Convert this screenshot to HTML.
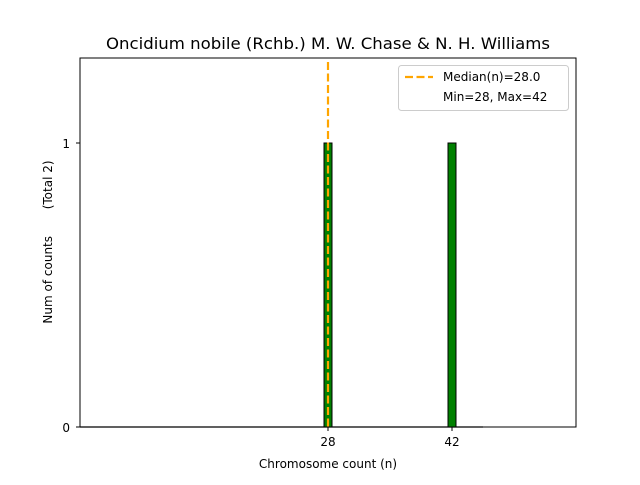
<!DOCTYPE html>
<html><head><style>body{margin:0;background:#fff}</style></head><body>
<svg width="640" height="480" xmlns="http://www.w3.org/2000/svg" font-family="DejaVu Sans, Liberation Sans, sans-serif">
<rect width="640" height="480" fill="#fff"/>
<text x="328" y="49" font-size="16.3" text-anchor="middle" textLength="444" lengthAdjust="spacingAndGlyphs">Oncidium nobile (Rchb.) M. W. Chase &amp; N. H. Williams</text>
<line x1="80" y1="427" x2="483" y2="427" stroke="#000" stroke-width="1.2"/>
<rect x="324" y="143" width="8" height="284" fill="#008000" stroke="#000" stroke-width="1"/>
<rect x="448" y="143" width="8" height="284" fill="#008000" stroke="#000" stroke-width="1"/>
<line x1="328" y1="62" x2="328" y2="427" stroke="#FFA500" stroke-width="2.2" stroke-dasharray="8,3.5"/>
<rect x="80" y="58" width="496" height="369" fill="none" stroke="#000" stroke-width="1"/>
<g stroke="#000"><line x1="76" y1="427" x2="80" y2="427"/><line x1="76" y1="143" x2="80" y2="143"/>
<line x1="328" y1="427" x2="328" y2="431"/><line x1="452" y1="427" x2="452" y2="431"/></g>
<g font-size="12"><text x="70" y="432" text-anchor="end">0</text><text x="70" y="148" text-anchor="end">1</text>
<text x="328" y="446" text-anchor="middle">28</text><text x="452" y="446" text-anchor="middle">42</text>
<text x="328" y="468" text-anchor="middle">Chromosome count (n)</text>
<text transform="translate(52,242) rotate(-90)" text-anchor="middle" style="white-space:pre" xml:space="preserve">Num of counts       (Total 2)</text></g>
<rect x="398.5" y="65.5" width="170" height="45" rx="3" fill="#fff" stroke="#ccc"/>
<line x1="405" y1="77" x2="433" y2="77" stroke="#FFA500" stroke-width="2.2" stroke-dasharray="8,3.5"/>
<g font-size="12"><text x="443" y="81">Median(n)=28.0</text><text x="443" y="101">Min=28, Max=42</text></g>
</svg>
</body></html>
